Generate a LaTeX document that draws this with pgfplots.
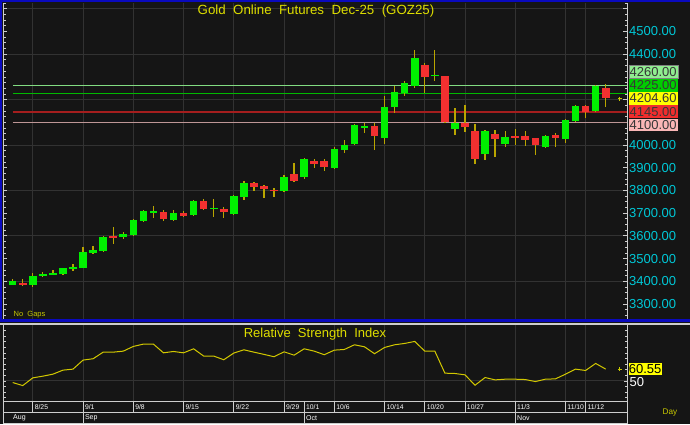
\documentclass[border=0pt]{standalone}
\usepackage{fontspec}
\setmainfont{Liberation Sans}
\usepackage{pgfplots}
\usepackage{pgfplotstable}
\pgfplotsset{compat=1.18}
\definecolor{bg}{RGB}{21,21,21}
\definecolor{gridc}{RGB}{50,50,50}
\definecolor{tickc}{RGB}{205,205,205}
\definecolor{ttl}{RGB}{222,222,0}
\definecolor{cyanlab}{RGB}{0,200,215}
\definecolor{cgreen}{RGB}{0,240,0}
\definecolor{cred}{RGB}{242,48,48}
\definecolor{wick}{RGB}{185,165,0}
\definecolor{lA}{RGB}{130,220,130}
\definecolor{lB}{RGB}{0,185,0}
\definecolor{lC}{RGB}{165,30,30}
\definecolor{lD}{RGB}{190,150,150}
\definecolor{bA}{RGB}{144,238,144}
\definecolor{bB}{RGB}{0,205,0}
\definecolor{bC}{RGB}{255,255,0}
\definecolor{bD}{RGB}{240,45,45}
\definecolor{bE}{RGB}{250,182,182}
\definecolor{boxtxt}{RGB}{55,55,55}
\definecolor{bluebar}{RGB}{10,10,190}
\definecolor{rsiline}{RGB}{210,200,0}
\definecolor{olive}{RGB}{200,200,0}

\pgfplotstableread{
i o h l c
0 3384 3409 3382 3400
1 3392 3408 3380 3384
2 3384 3435 3376 3423
3 3423 3441 3419 3432
4 3430 3448 3427 3436
5 3432 3460 3426 3457
6 3455 3476 3447 3464
7 3460 3549 3457 3529
8 3525 3557 3520 3538
9 3535 3601 3529 3594
10 3601 3639 3566 3589
11 3596 3617 3588 3610
12 3604 3674 3599 3670
13 3665 3715 3661 3709
14 3701 3731 3677 3708
15 3705 3714 3667 3674
16 3670 3714 3667 3701
17 3701 3709 3685 3689
18 3693 3758 3687 3753
19 3753 3761 3712 3718
20 3718 3761 3681 3724
21 3718 3726 3677 3705
22 3698 3778 3690 3774
23 3770 3842 3758 3834
24 3834 3839 3798 3815
25 3818 3824 3765 3808
26 3804 3811 3770 3798
27 3798 3869 3793 3858
28 3874 3919 3837 3843
29 3858 3944 3852 3938
30 3928 3939 3899 3916
31 3928 3939 3887 3902
32 3900 3993 3893 3984
33 3977 4021 3964 4000
34 4005 4093 3999 4088
35 4077 4099 4054 4084
36 4084 4099 3980 4038
37 4030 4217 4005 4169
38 4166 4259 4140 4234
39 4231 4283 4215 4273
40 4261 4419 4250 4383
41 4354 4363 4228 4298
42 4304 4419 4283 4310
43 4303 4305 4099 4101
44 4070 4162 4044 4099
45 4099 4178 4057 4078
46 4061 4091 3917 3937
47 3962 4066 3936 4061
48 4050 4067 3945 4026
49 4005 4061 3990 4034
50 4038 4070 4000 4030
51 4038 4063 3994 4024
52 4029 4030 3956 4000
53 3991 4045 3987 4038
54 4045 4053 3991 4031
55 4026 4116 4010 4108
56 4107 4175 4101 4170
57 4170 4174 4118 4145
58 4149 4266 4145 4260
59 4253 4269 4167 4205
}\ohlc

\pgfplotstableread{
i r
0 48.5
1 45.8
2 52.7
3 54.2
4 56.0
5 59.6
6 60.5
7 68.6
8 69.8
9 75.7
10 75.7
11 76.6
12 80.8
13 82.9
14 82.9
15 75.1
16 76.3
17 75.1
18 78.7
19 72.2
20 72.2
21 68.9
22 74.9
23 77.8
24 75.7
25 73.7
26 71.6
27 76.0
28 73.0
29 78.7
30 76.6
31 73.4
32 77.5
33 78.1
34 82.3
35 80.5
36 74.3
37 79.9
38 82.3
39 83.5
40 85.3
41 76.6
42 76.6
43 56.9
44 56.6
45 55.4
46 46.1
47 53.0
48 50.9
49 51.5
50 51.5
51 51.2
52 49.4
53 51.5
54 51.8
55 56.0
56 60.5
57 59.3
58 65.6
59 60.55
}\rsi

\newcommand{\wsp}{\hspace{0.556em}}

\begin{document}
\begin{tikzpicture}[x=1pt,y=1pt]
\fill[bg] (0,0) rectangle (690,424);

% ---------------- main price panel ----------------
\begin{axis}[
  at={(3.5pt,105pt)}, anchor=south west, scale only axis,
  width=623.5pt, height=316.3pt,
  xmin=-0.915, xmax=61.12, ymin=3233.9, ymax=4626.5,
  clip=false,
  axis line style={draw=none},
  xtick=\empty,
  extra x ticks={2,7,12,17,22,27,32,37,41,45,50,55,57},
  extra x tick labels={},
  extra x tick style={grid=major, tick style={draw=none}},
  ytick={3300,3400,3500,3600,3700,3800,3900,4000,4400,4500},
  minor ytick={3250,3275,...,4625},
  extra y ticks={3400,3600,3800,4000,4200,4400,4600},
  extra y tick labels={},
  extra y tick style={grid=major},
  major grid style={draw=gridc, line width=0.8pt},
  yticklabel pos=right, ytick pos=both,
  tick align=inside,
  major tick length=4pt, minor tick length=2.5pt,
  tick style={draw=tickc, line width=0.7pt},
  y tick label style={text=cyanlab, font=\fontsize{13}{13}\selectfont, anchor=west, inner sep=0pt, xshift=2pt,
    /pgf/number format/.cd, fixed, fixed zerofill, precision=2, 1000 sep={}, assume math mode=true},
  candle/.style 2 args={draw=none, mark=none, forget plot,
    error bars/.cd, y dir=both, y explicit, error mark=none,
    error bar style={draw=#1, line width=#2, line cap=butt}},
]
\addplot[lA, line width=1pt] coordinates {(0.03,4260) (61.12,4260)};
\addplot[lB, line width=1pt] coordinates {(0.03,4225) (61.12,4225)};
\addplot[lC, line width=1.2pt] coordinates {(0.03,4145) (61.12,4145)};
\addplot[lD, line width=1.2pt] coordinates {(0.03,4100) (61.12,4100)};
% wicks
\addplot[candle={wick}{1.3pt}]
  table[x=i, y expr={(\thisrow{h}+\thisrow{l})/2}, y error expr={(\thisrow{h}-\thisrow{l})/2}] {\ohlc};
% up bodies
\addplot[restrict expr to domain={\thisrow{c}-\thisrow{o}}{0:100000}, candle={cgreen}{7.6pt}]
  table[x=i, y expr={(\thisrow{o}+\thisrow{c})/2}, y error expr={abs(\thisrow{c}-\thisrow{o})/2}] {\ohlc};
% down bodies
\addplot[restrict expr to domain={\thisrow{o}-\thisrow{c}}{0.5:100000}, candle={cred}{7.6pt}]
  table[x=i, y expr={(\thisrow{o}+\thisrow{c})/2}, y error expr={abs(\thisrow{c}-\thisrow{o})/2}] {\ohlc};
% last price pointer
\addplot[olive, mark=+, mark size=2pt, line width=0.8pt, only marks] coordinates {(60.4,4204.6)};
% frame
\draw[tickc, line width=0.8pt] (rel axis cs:0,0) -- (rel axis cs:0,1);
\draw[tickc, line width=0.8pt] (rel axis cs:1,0) -- (rel axis cs:1,1);
% level boxes
\tikzset{lvl/.style={anchor=west, inner sep=0pt, minimum width=49pt, minimum height=12.9pt,
   font=\fontsize{13}{13}\selectfont, text=boxtxt}}
\node[lvl, fill=bA, draw=gray, line width=0.4pt] at ([xshift=1.5pt]axis cs:61.12,4321) {4260.00};
\node[lvl, fill=bB] at ([xshift=1.5pt]axis cs:61.12,4263) {4225.00};
\node[lvl, fill=bC] at ([xshift=1.5pt]axis cs:61.12,4205) {4204.60};
\node[lvl, fill=bD] at ([xshift=1.5pt]axis cs:61.12,4147) {4145.00};
\node[lvl, fill=bE] at ([xshift=1.5pt]axis cs:61.12,4088) {4100.00};
\node[anchor=west, inner sep=0pt, text=olive, font=\fontsize{7.5}{7.5}\selectfont] at ([xshift=10pt,yshift=4pt]rel axis cs:0,0) {No\wsp Gaps};
\end{axis}

% separators between panels
\fill[bluebar] (0,102) rectangle (690,104.7);
\fill[bluebar] (0,102) rectangle (2.3,424);
\fill[bluebar] (0,421.5) rectangle (690,424);
\fill[tickc] (0,99.3) rectangle (690,101.3);

\node[text=ttl, font=\fontsize{13.3}{13.3}\selectfont] at (316,413) {Gold\wsp Online\wsp Futures\wsp Dec-25\wsp (GOZ25)};

% ---------------- RSI panel ----------------
\begin{axis}[
  at={(3.5pt,23pt)}, anchor=south west, scale only axis,
  width=623.5pt, height=76pt,
  xmin=-0.915, xmax=61.12, ymin=32, ymax=100,
  clip=false,
  axis line style={draw=none},
  xtick={2,7,12,17,22,27,29,32,37,41,45,50,55,57},
  xticklabels={8/25,9/1,9/8,9/15,9/22,9/29,10/1,10/6,10/14,10/20,10/27,11/3,11/10,11/12},
  x tick style={draw=none},
  xticklabel style={anchor=west, inner sep=0pt, xshift=1.8pt, yshift=-5.8pt, text=white, font=\fontsize{6.8}{6.8}\selectfont},
  extra x ticks={2,7,12,17,22,27,32,37,41,45,50,55,57},
  extra x tick labels={},
  extra x tick style={grid=major, tick style={draw=none}},
  ytick={50}, ymajorgrids=true,
  minor ytick={35,40,...,95},
  major grid style={draw=gridc, line width=0.8pt},
  yticklabel pos=right, ytick pos=both,
  tick align=inside,
  major tick length=3pt, minor tick length=2.5pt,
  y tick style={draw=tickc, line width=0.7pt},
  y tick label style={text=white, font=\fontsize{13}{13}\selectfont, anchor=west, inner sep=0pt, xshift=2.5pt, yshift=-1pt,
    /pgf/number format/assume math mode=true},
]
\addplot[rsiline, line width=1pt] table[x=i, y=r] {\rsi};
\addplot[olive, mark=+, mark size=2pt, line width=0.8pt, only marks] coordinates {(60.4,60.55)};
\node[anchor=west, inner sep=0.3pt, fill=bC, text=black, minimum height=11.3pt, font=\fontsize{13}{13}\selectfont] at ([xshift=1.3pt]axis cs:61.12,60.55) {60.55};
\draw[tickc, line width=0.8pt] (rel axis cs:0,0) -- ([yshift=-23pt]rel axis cs:0,0);
\draw[tickc, line width=0.8pt] (rel axis cs:0,0) -- (rel axis cs:0,1);
\draw[tickc, line width=0.8pt] ([yshift=-23pt]rel axis cs:1,0) -- (rel axis cs:1,1);
\draw[tickc, line width=0.8pt] (rel axis cs:0,0) -- (rel axis cs:1,0);
\draw[tickc, line width=0.8pt] ([yshift=-11pt]rel axis cs:0,0) -- ([yshift=-11pt]rel axis cs:1,0);
\draw[tickc, line width=0.8pt] ([yshift=-22.6pt]rel axis cs:0,0) -- ([yshift=-22.6pt]rel axis cs:1,0);
\pgfplotsinvokeforeach{2,7,12,17,22,27,29,32,37,41,45,50,55,57}{
  \draw[tickc, line width=0.8pt] (axis cs:#1,32) -- ([yshift=-11pt]axis cs:#1,32);
}
\pgfplotsinvokeforeach{7,29,50}{
  \draw[tickc, line width=0.8pt] ([yshift=-11pt]axis cs:#1,32) -- ([yshift=-23pt]axis cs:#1,32);
}
\tikzset{mon/.style={anchor=west, inner sep=0pt, text=white, font=\fontsize{7}{7}\selectfont}}
\node[mon] at ([xshift=9.5pt,yshift=-17pt]rel axis cs:0,0) {Aug};
\node[mon] at ([xshift=1.8pt,yshift=-17pt]axis cs:7,32) {Sep};
\node[mon] at ([xshift=1.8pt,yshift=-17pt]axis cs:29,32) {Oct};
\node[mon] at ([xshift=1.8pt,yshift=-17pt]axis cs:50,32) {Nov};
\end{axis}

\node[text=ttl, font=\fontsize{13}{13}\selectfont] at (315,90) {Relative\wsp Strength\wsp Index};
\node[text=olive, font=\fontsize{8.2}{8.2}\selectfont] at (670,11) {Day};
\end{tikzpicture}
\end{document}
